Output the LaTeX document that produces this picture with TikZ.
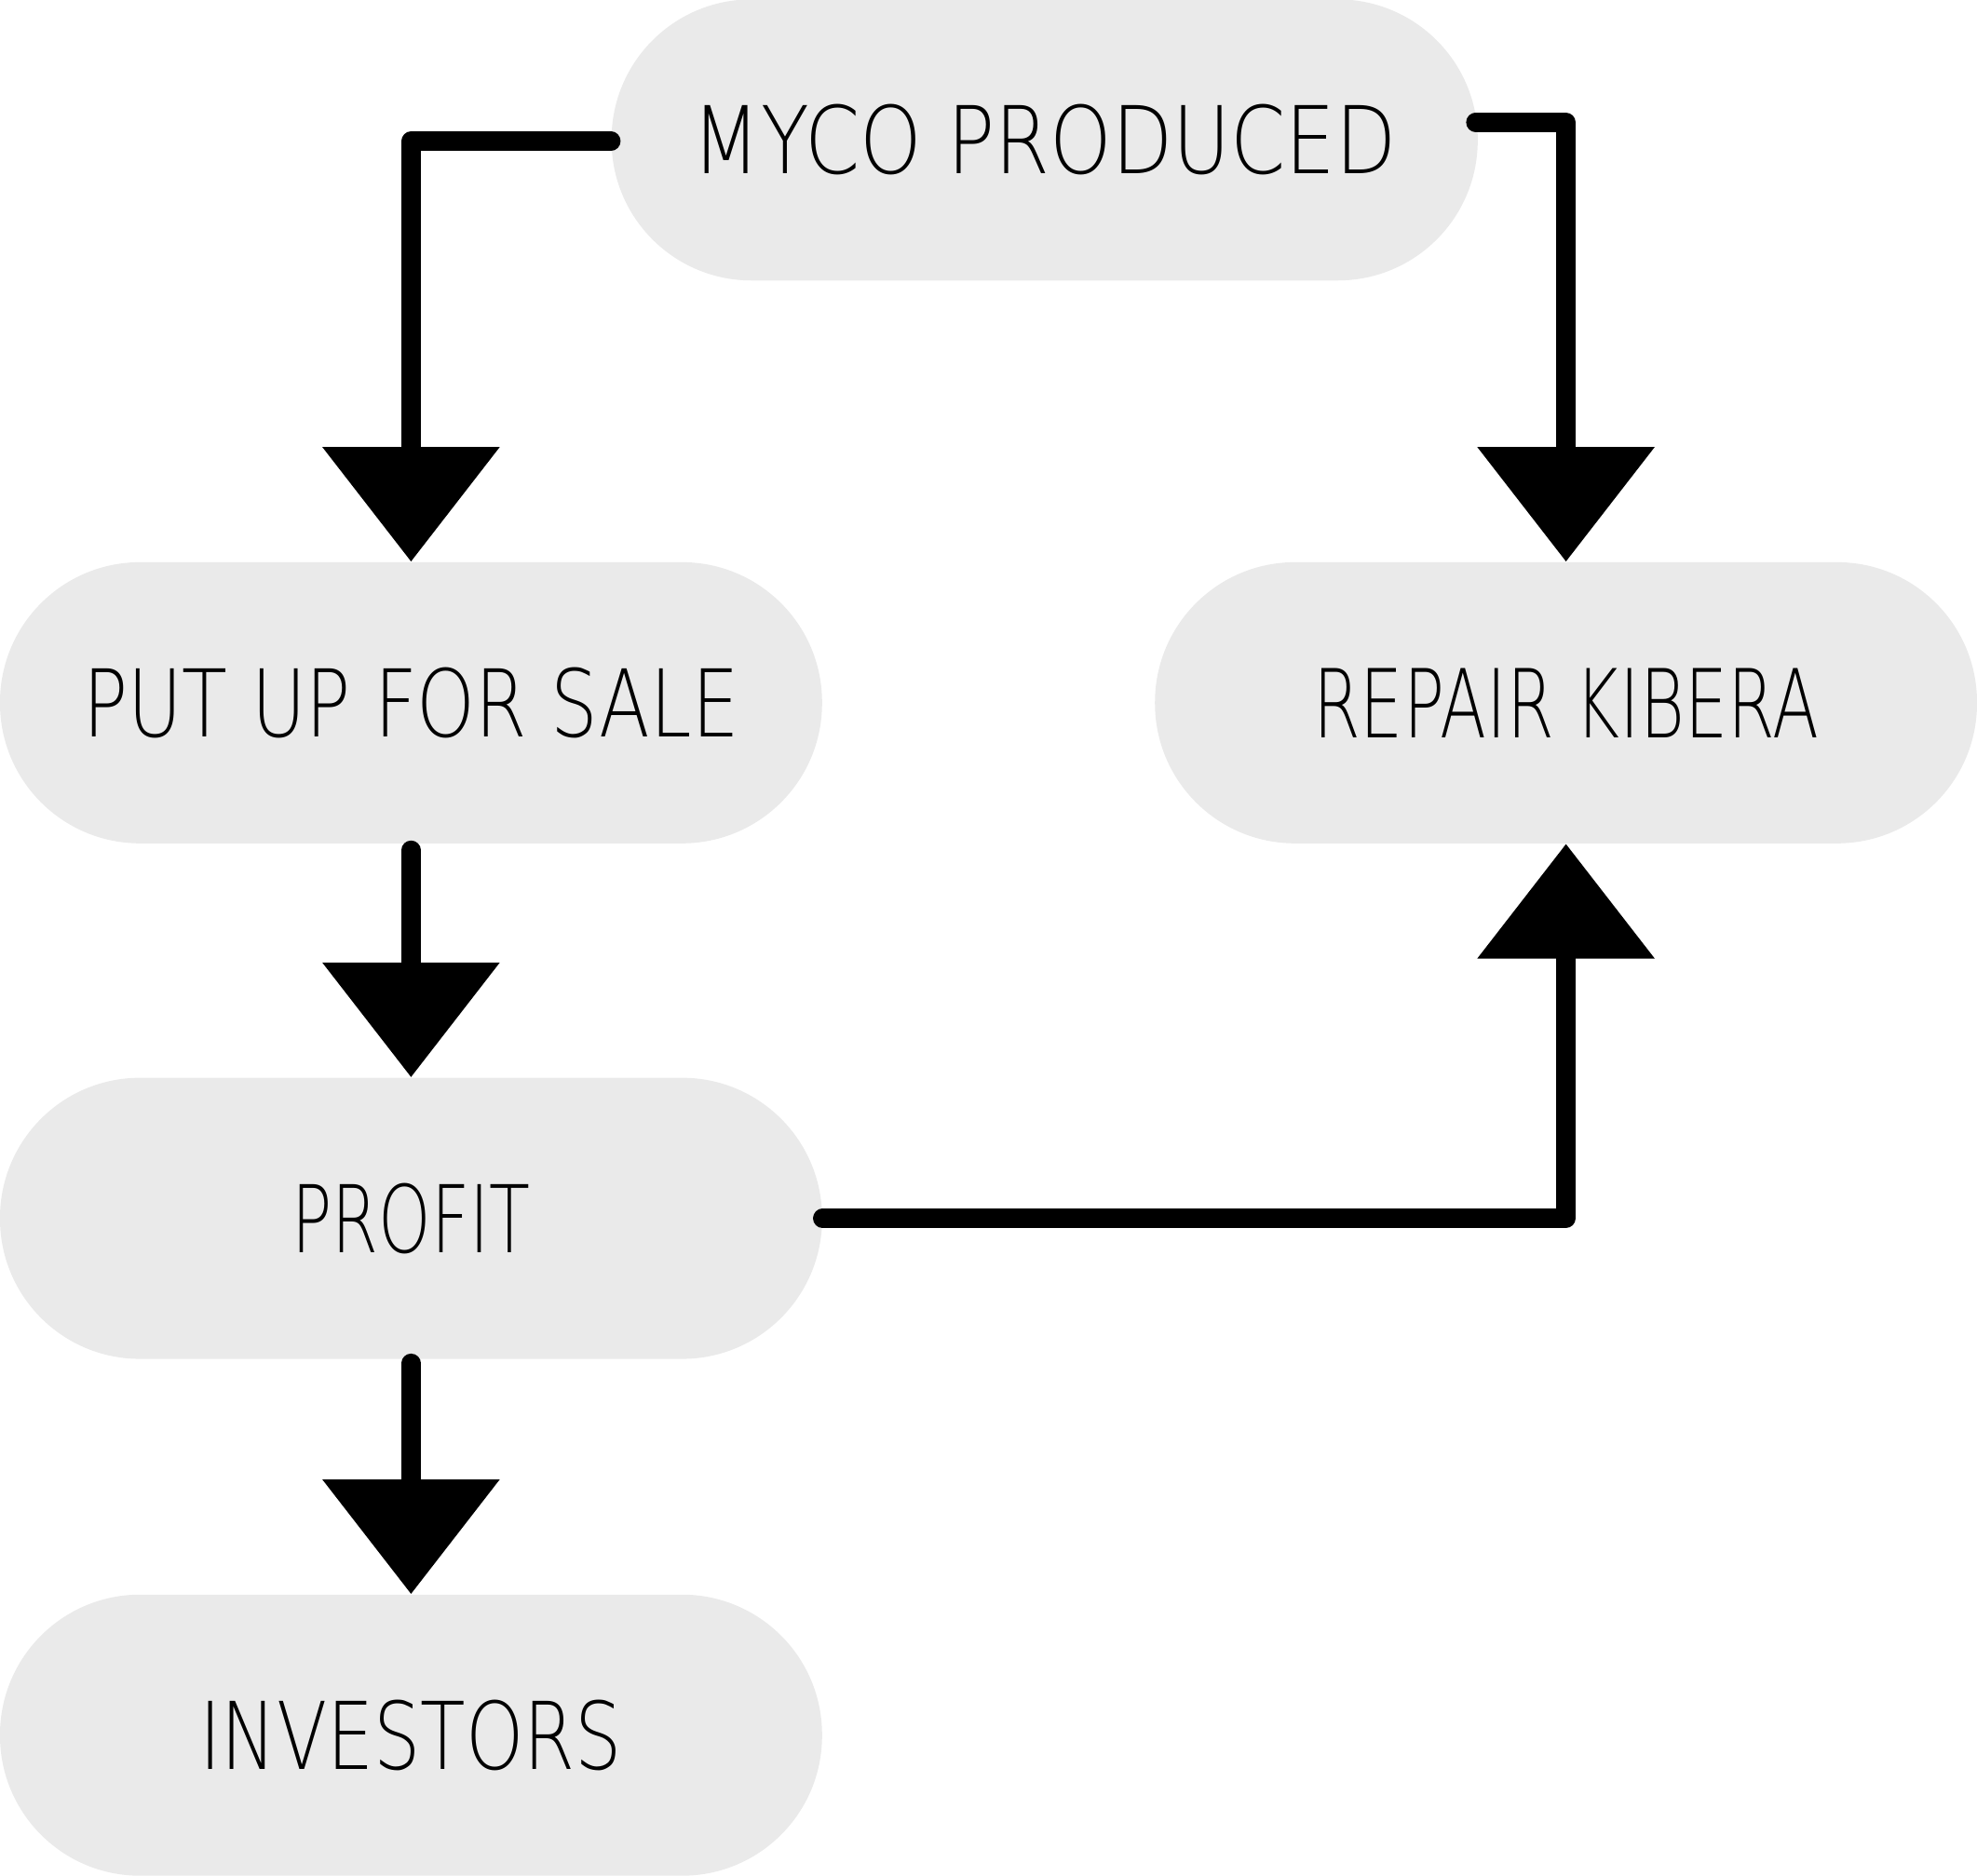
\documentclass[tikz,border=0pt]{standalone}
\usepackage{fontspec}
\setmainfont{DejaVu Sans}[UprightFont=* ExtraLight]
\usepackage{graphicx}
\usetikzlibrary{arrows.meta}
\definecolor{pillgray}{HTML}{EAEAEA}
\tikzset{
  pill/.style={fill=pillgray, draw=none, rectangle, rounded corners=55.5pt,
    minimum width=326pt, minimum height=111.5pt, inner sep=0pt},
  conn/.style={line width=7.6pt, line cap=round, line join=round,
    -{Triangle[length=45.5pt, width=68.5pt]}},
}
\newcommand{\lbl}[2]{\resizebox{#1}{27.5pt}{#2}}
\begin{document}
\begin{tikzpicture}[x=0.5pt, y=-0.5pt]
\useasboundingbox (0,0) rectangle (1568,1488);
\node[pill, minimum width=343.5pt] (myco) at (828.5,111) {\lbl{279pt}{MYCO PRODUCED}};
\node[pill] (put) at (326,557.5) {\lbl{260pt}{PUT UP FOR SALE}};
\node[pill] (repair) at (1242,557.5) {\lbl{200.5pt}{REPAIR KIBERA}};
\node[pill] (profit) at (326,966.5) {\lbl{94.5pt}{PROFIT}};
\node[pill] (investors) at (326,1376.5) {\lbl{167.5pt}{INVESTORS}};
\path (myco.west) ++(0,1) coordinate (mW);
\path (myco.east) ++(-2,-14) coordinate (mE);
\path (put.south) ++(0,5) coordinate (pS);
\path (profit.east) ++(0,0) coordinate (prE);
\path (profit.south) ++(0,3) coordinate (prS);
\draw[conn] (mW) -| (put.north);
\draw[conn] (mE) -| (repair.north);
\draw[conn] (pS) -- (profit.north);
\draw[conn] (prE) -| (repair.south);
\draw[conn] (prS) -- (investors.north);
\end{tikzpicture}
\end{document}
